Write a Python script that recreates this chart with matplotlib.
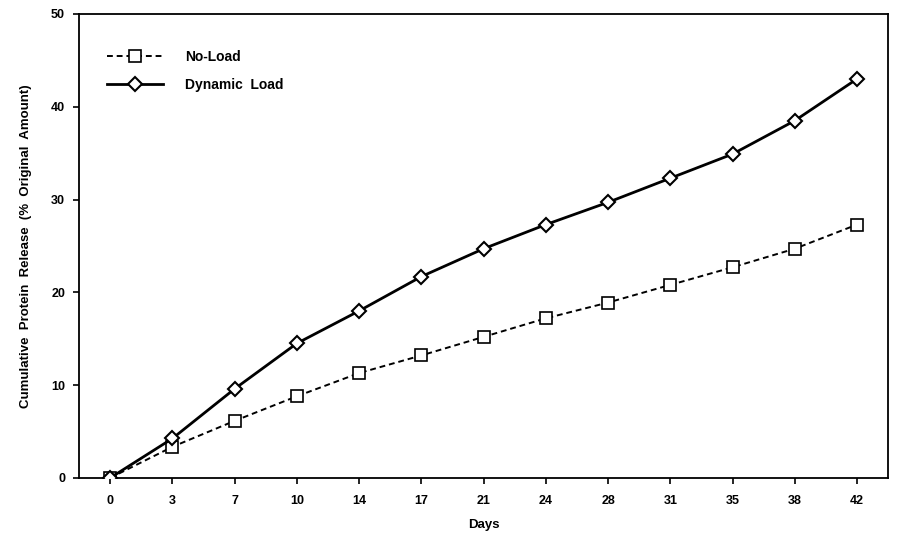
import matplotlib.pyplot as plt

plt.rcParams['font.family'] = ['Liberation Sans', 'DejaVu Sans']

# 採取日（等間隔のカテゴリとして表示）
days = ['0', '3', '7', '10', '14', '17', '21', '24', '28', '31', '35', '38', '42']
no_load = [0, 3.35, 6.15, 8.8, 11.3, 13.2, 15.2, 17.2, 18.9, 20.8, 22.7, 24.7, 27.3]
dynamic_load = [0, 4.25, 9.6, 14.5, 18.0, 21.7, 24.7, 27.3, 29.7, 32.3, 34.9, 38.5, 43.0]

fig = plt.figure(figsize=(8.99, 5.37), dpi=100)
ax = fig.add_axes([0.0879, 0.110, 0.900, 0.864])

x = list(range(len(days)))
ax.plot(x, no_load, color='black', linestyle=(0, (3, 2)), linewidth=1.4,
        marker='s', markersize=8, markerfacecolor='white',
        markeredgecolor='black', markeredgewidth=1.2, label='No-Load', zorder=3)
ax.plot(x, dynamic_load, color='black', linestyle='-', linewidth=2.0,
        marker='D', markersize=7, markerfacecolor='white',
        markeredgecolor='black', markeredgewidth=1.5, label='Dynamic  Load', zorder=4)

ax.set_xlim(-0.5, 12.5)
ax.set_ylim(0, 50)
ax.set_xticks(x)
ax.set_xticklabels(days)
ax.set_yticks([0, 10, 20, 30, 40, 50])

ax.tick_params(axis='both', direction='out', length=4, width=1.2,
               labelsize=9, pad=6)
for lbl in ax.get_xticklabels() + ax.get_yticklabels():
    lbl.set_fontweight('bold')
ax.tick_params(axis='x', pad=8)

for s in ax.spines.values():
    s.set_linewidth(1.3)

ax.set_xlabel('Days', fontsize=9.5, fontweight='bold', labelpad=9)
ax.set_ylabel('Cumulative  Protein  Release  (%  Original  Amount)', fontsize=9.5,
              fontweight='bold', labelpad=14)

leg = ax.legend(loc='upper left', frameon=False, fontsize=10,
                handlelength=4.0, handletextpad=1.6, labelspacing=1.0,
                borderaxespad=0.0, bbox_to_anchor=(0.028, 0.935))
for t in leg.get_texts():
    t.set_fontweight('bold')

fig.savefig('out.png', dpi=100)
